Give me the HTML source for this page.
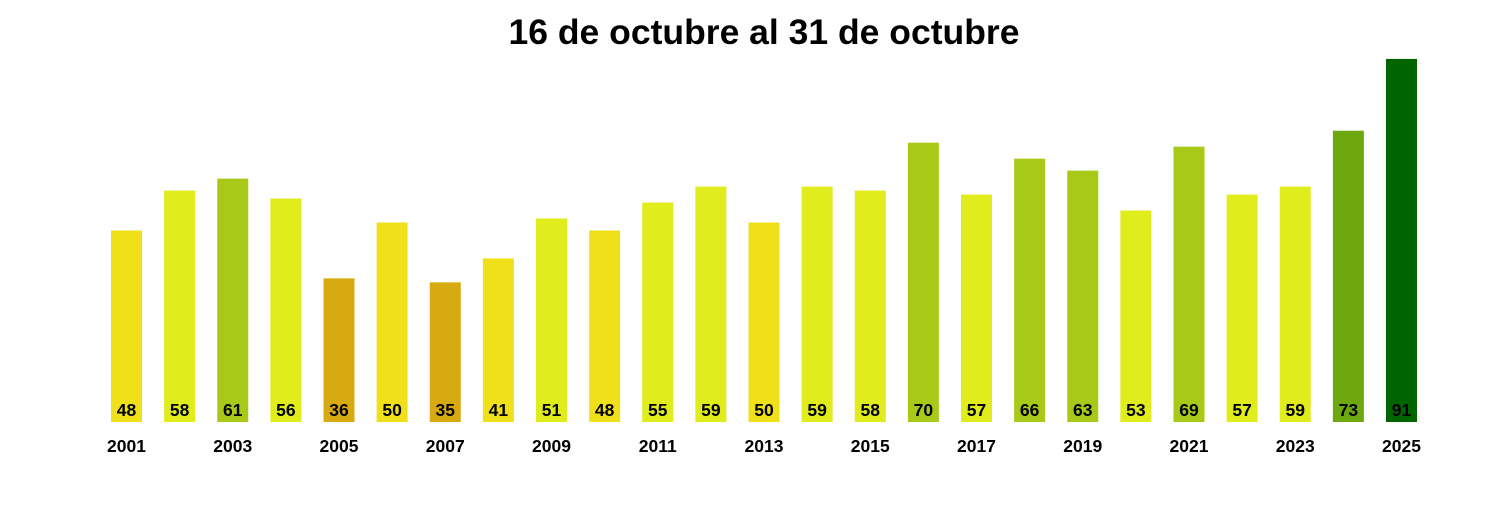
<!DOCTYPE html>
<html><head><meta charset="utf-8"><style>
body{margin:0;background:#fff;width:1500px;height:500px;overflow:hidden}
</style></head><body>
<svg width="1500" height="500" xmlns="http://www.w3.org/2000/svg" font-family="Liberation Sans, sans-serif" font-weight="bold">
<text x="764" y="44" font-size="35.5" text-anchor="middle">16 de octubre al 31 de octubre</text>
<g id="bars"></g>
</svg>
<script>
const v=[48,58,61,56,36,50,35,41,51,48,55,59,50,59,58,70,57,66,63,53,69,57,59,73,91];
function col(x){if(x>=80)return"#006400";if(x>=72)return"#6CA80E";if(x>=60)return"#A9C918";if(x>=51)return"#E0EC1C";if(x>=40)return"#F0E01A";return"#D8AA12";}
let s="";
v.forEach((x,i)=>{const cx=126.5+i*53.125,h=x*3.99;
s+=`<rect x="${cx-15.5}" y="${422-h}" width="31" height="${h}" fill="${col(x)}"/>`;
s+=`<text x="${cx}" y="416" font-size="17.5" text-anchor="middle">${x}</text>`;
if(i%2==0)s+=`<text x="${cx}" y="452" font-size="17.5" text-anchor="middle">${2001+i}</text>`;});
document.getElementById("bars").innerHTML=s;
</script>
</body></html>
